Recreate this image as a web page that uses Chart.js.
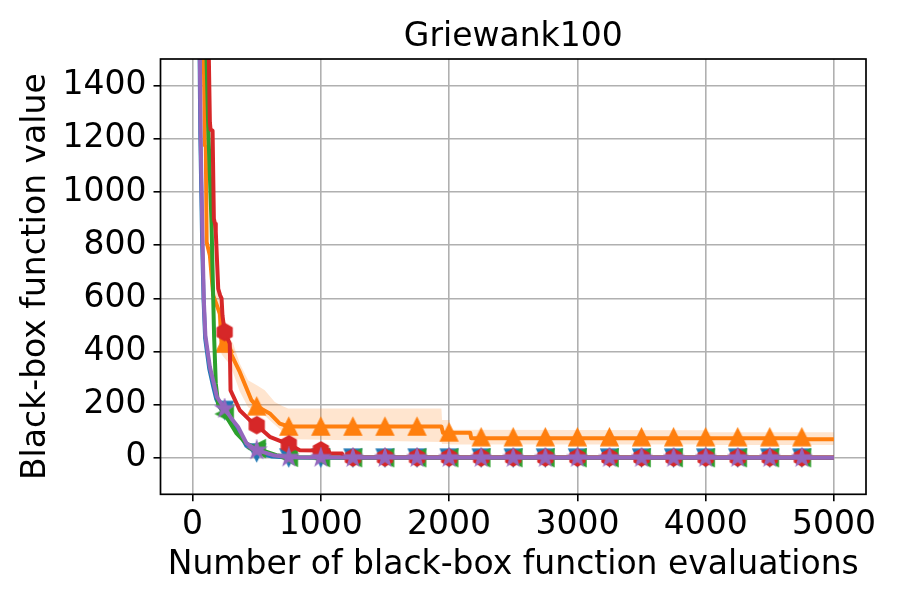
<!DOCTYPE html>
<html>
<head>
<meta charset="utf-8">
<script src="https://cdn.jsdelivr.net/npm/chart.js@4.4.1/dist/chart.umd.min.js"></script>
<style>
  html, body { margin: 0; padding: 0; background: #fff; }
  canvas { display: block; }
</style>
</head>
<body>
<canvas id="chart" width="900" height="600"></canvas>
<script>
// Griewank100 — best-so-far curves

const xTicks = [0, 1000, 2000, 3000, 4000, 5000];
const yTicks = [0, 200, 400, 600, 800, 1000, 1200, 1400];
const markerX = [250, 500, 750, 1000, 1250, 1500, 1750, 2000, 2250, 2500,
                 2750, 3000, 3250, 3500, 3750, 4000, 4250, 4500, 4750];

// blue (C0)
const blueX = [40, 55, 60, 75, 86, 98, 130, 160, 185, 250, 300, 350, 420, 500, 620, 750, 1000, 5000];
const blueY = [2200, 1500, 1220, 800, 590, 450, 335, 270, 220, 178, 140, 105, 45, 20, 5, 1, 0.5, 0.3];
const blueMarks = [180, 20, 1, 0.5, 0.5, 0.5, 0.5, 0.5, 0.5, 0.5, 0.5, 0.5, 0.5, 0.5, 0.5, 0.5, 0.5, 0.5, 0.5];

// orange (C1) mean and band
const orangeX = [40, 88, 96, 103, 110, 135, 161, 213, 226, 250, 270, 368, 459, 500, 602, 680, 750,
                 1940, 1952, 2165, 2172, 4760, 4770, 5000];
const orangeY = [2600, 1500, 1175, 1170, 811, 761, 611, 542, 430, 430, 420, 323, 217, 194, 167, 129, 118,
                 118, 94, 94, 74, 74, 70, 70];
const orangeMarks = [430, 194, 118, 118, 118, 118, 118, 96, 78, 78, 78, 78, 78, 78, 78, 78, 78, 78, 78];
const bandX = [180, 226, 250, 277, 316, 368, 433, 511, 563, 641, 700, 745, 800,
               1940, 1945, 2005, 2010, 4000, 4010, 5000];
const bandHi = [900, 520, 490, 460, 430, 355, 292, 270, 254, 210, 195, 186, 186,
                186, 142, 142, 106, 104, 96, 96];
const bandLo = [600, 390, 375, 360, 320, 250, 190, 173, 158, 125, 100, 80, 70,
                60, 52, 52, 50, 50, 48, 48];

// green (C2)
const greenX = [40, 109, 122, 148, 156, 168, 181, 200, 250, 343, 420, 500, 654, 750, 1000, 5000];
const greenY = [2800, 1500, 1243, 880, 705, 455, 280, 200, 165, 92, 54, 35, 10, 2, 1, 0.5];
const greenMarks = [165, 35, 2, 1, 0.5, 0.5, 0.5, 0.5, 0.5, 0.5, 0.5, 0.5, 0.5, 0.5, 0.5, 0.5, 0.5, 0.5, 0.5];

// red (C3)
const redX = [40, 127, 135, 140, 156, 166, 175, 181, 200, 215, 226, 233, 250, 290, 296, 368, 446, 500,
              602, 750, 836, 1000, 1060, 1070, 1165, 1175, 5000];
const redY = [3000, 1500, 1262, 1235, 1230, 899, 880, 850, 636, 611, 600, 536, 473, 430, 254, 179, 142, 123,
              79, 51, 29, 28, 28, 16, 16, 2, 1];
const redMarks = [473, 123, 51, 28, 1, 1, 1, 1, 1, 1, 1, 1, 1, 1, 1, 1, 1, 1, 1];

// purple (C4)
const purpleX = [40, 57, 62, 78, 88, 100, 135, 166, 190, 250, 300, 355, 420, 500, 628, 750, 1000, 5000];
const purpleY = [2200, 1500, 1230, 805, 592, 460, 342, 280, 229, 185, 150, 116, 55, 29, 10, 2, 1, 0.5];
const purpleMarks = [185, 29, 2, 1, 0.5, 0.5, 0.5, 0.5, 0.5, 0.5, 0.5, 0.5, 0.5, 0.5, 0.5, 0.5, 0.5, 0.5, 0.5];

const FONT = 'DejaVu Sans';
const C0 = '#1f77b4', C1 = '#ff7f0e', C2 = '#2ca02c', C3 = '#d62728', C4 = '#9467bd';

function pts(xs, ys) {
    return xs.map((x, i) => ({ x: x, y: ys[i] }));
}

// matplotlib-like marker glyphs drawn on small canvases
function makeMarker(kind, color, size) {
    const pad = 2;
    const c = document.createElement('canvas');
    c.width = c.height = Math.ceil(size + pad * 2);
    const g = c.getContext('2d');
    const m = c.width / 2, h = size / 2;
    g.beginPath();
    if (kind === 'up') {
        g.moveTo(m, m - h); g.lineTo(m + h, m + h); g.lineTo(m - h, m + h);
    } else if (kind === 'down') {
        g.moveTo(m, m + h); g.lineTo(m + h, m - h); g.lineTo(m - h, m - h);
    } else if (kind === 'left') {
        g.moveTo(m - h, m); g.lineTo(m + h, m - h); g.lineTo(m + h, m + h);
    } else if (kind === 'hex') {
        for (let k = 0; k < 6; k++) {
            const a = -Math.PI / 2 + k * Math.PI / 3;
            g.lineTo(m + h * Math.cos(a), m + h * Math.sin(a));
        }
    } else if (kind === 'star') {
        for (let k = 0; k < 10; k++) {
            const r = k % 2 ? h * 0.381966 : h;
            const a = -Math.PI / 2 + k * Math.PI / 5;
            g.lineTo(m + r * Math.cos(a), m + r * Math.sin(a));
        }
    }
    g.closePath();
    g.fillStyle = color;
    g.strokeStyle = color;
    g.lineWidth = 1.5;
    g.lineJoin = 'miter';
    g.fill();
    g.stroke();
    return c;
}

function lineSet(label, xs, ys, color, order) {
    return {
        label: label,
        data: pts(xs, ys),
        borderColor: color,
        borderWidth: 4,
        borderJoinStyle: 'round',
        pointRadius: 0,
        fill: false,
        order: order,
        clip: 0,
    };
}

function markSet(label, ys, color, img, order) {
    return {
        label: label,
        data: pts(markerX, ys),
        showLine: false,
        pointStyle: img,
        pointRadius: 9,
        borderColor: color,
        backgroundColor: color,
        order: order,
        clip: 0,
    };
}

const datasets = [
    {
        label: 'band hi', data: pts(bandX, bandHi), borderWidth: 0, pointRadius: 0,
        backgroundColor: 'rgba(255,127,14,0.2)', fill: '+1', order: 20, clip: 0,
    },
    {
        label: 'band lo', data: pts(bandX, bandLo), borderWidth: 0, pointRadius: 0,
        fill: false, order: 21, clip: 0,
    },
    lineSet('blue', blueX, blueY, C0, 10),
    markSet('blue m', blueMarks, C0, makeMarker('down', C0, 17), 9),
    lineSet('orange', orangeX, orangeY, C1, 8),
    markSet('orange m', orangeMarks, C1, makeMarker('up', C1, 17), 7),
    lineSet('green', greenX, greenY, C2, 6),
    markSet('green m', greenMarks, C2, makeMarker('left', C2, 17), 5),
    lineSet('red', redX, redY, C3, 4),
    markSet('red m', redMarks, C3, makeMarker('hex', C3, 17), 3),
    lineSet('purple', purpleX, purpleY, C4, 2),
    markSet('purple m', purpleMarks, C4, makeMarker('star', C4, 18), 1),
];

const frameAndTitle = {
    id: 'frameAndTitle',
    beforeDatasetsDraw(chart) {
        const { ctx, chartArea: a } = chart;
        ctx.save();
        ctx.beginPath();
        ctx.rect(a.left, a.top, a.right - a.left, a.bottom - a.top);
        ctx.clip();
    },
    afterDatasetsDraw(chart) {
        chart.ctx.restore();
    },
    afterDraw(chart) {
        const { ctx, chartArea: a } = chart;
        ctx.save();
        ctx.strokeStyle = '#000';
        ctx.lineWidth = 1.7;
        ctx.strokeRect(a.left, a.top, a.right - a.left, a.bottom - a.top);
        ctx.fillStyle = '#000';
        ctx.font = '33px "' + FONT + '"';
        ctx.textAlign = 'center';
        ctx.textBaseline = 'alphabetic';
        ctx.fillText('Griewank100', (a.left + a.right) / 2, 46);
        ctx.restore();
    },
};

new Chart(document.getElementById('chart'), {
    type: 'line',
    data: { datasets: datasets },
    plugins: [frameAndTitle],
    options: {
        responsive: false,
        animation: false,
        devicePixelRatio: 1,
        layout: { padding: { left: 0, top: 59, right: 34, bottom: 0 } },
        plugins: {
            legend: { display: false },
            tooltip: { enabled: false },
        },
        scales: {
            x: {
                type: 'linear',
                min: -250,
                max: 5250,
                afterBuildTicks: s => { s.ticks = xTicks.map(v => ({ value: v })); },
                afterFit: s => { s.height = 105.7; },
                grid: { color: '#b0b0b0', lineWidth: 1.6, tickColor: '#000', tickLength: 7, tickWidth: 1.6 },
                border: { display: false },
                ticks: {
                    color: '#000', font: { family: FONT, size: 33 }, padding: 4, maxRotation: 0, autoSkip: false,
                    callback: v => String(v),
                },
                title: {
                    display: true, text: 'Number of black-box function evaluations', color: '#000',
                    font: { family: FONT, size: 33 }, padding: { top: 0, bottom: 15 },
                },
            },
            y: {
                type: 'linear',
                min: -137,
                max: 1500,
                afterBuildTicks: s => { s.ticks = yTicks.map(v => ({ value: v })); },
                afterFit: s => { s.width = 160.5; },
                grid: { color: '#b0b0b0', lineWidth: 1.6, tickColor: '#000', tickLength: 7, tickWidth: 1.6 },
                border: { display: false },
                ticks: {
                    color: '#000', font: { family: FONT, size: 33 }, padding: 7, autoSkip: false,
                    callback: v => String(v),
                },
                title: {
                    display: true, text: 'Black-box function value', color: '#000',
                    font: { family: FONT, size: 33 }, padding: { top: 17, bottom: 0 },
                },
            },
        },
    },
});
</script>
</body>
</html>
